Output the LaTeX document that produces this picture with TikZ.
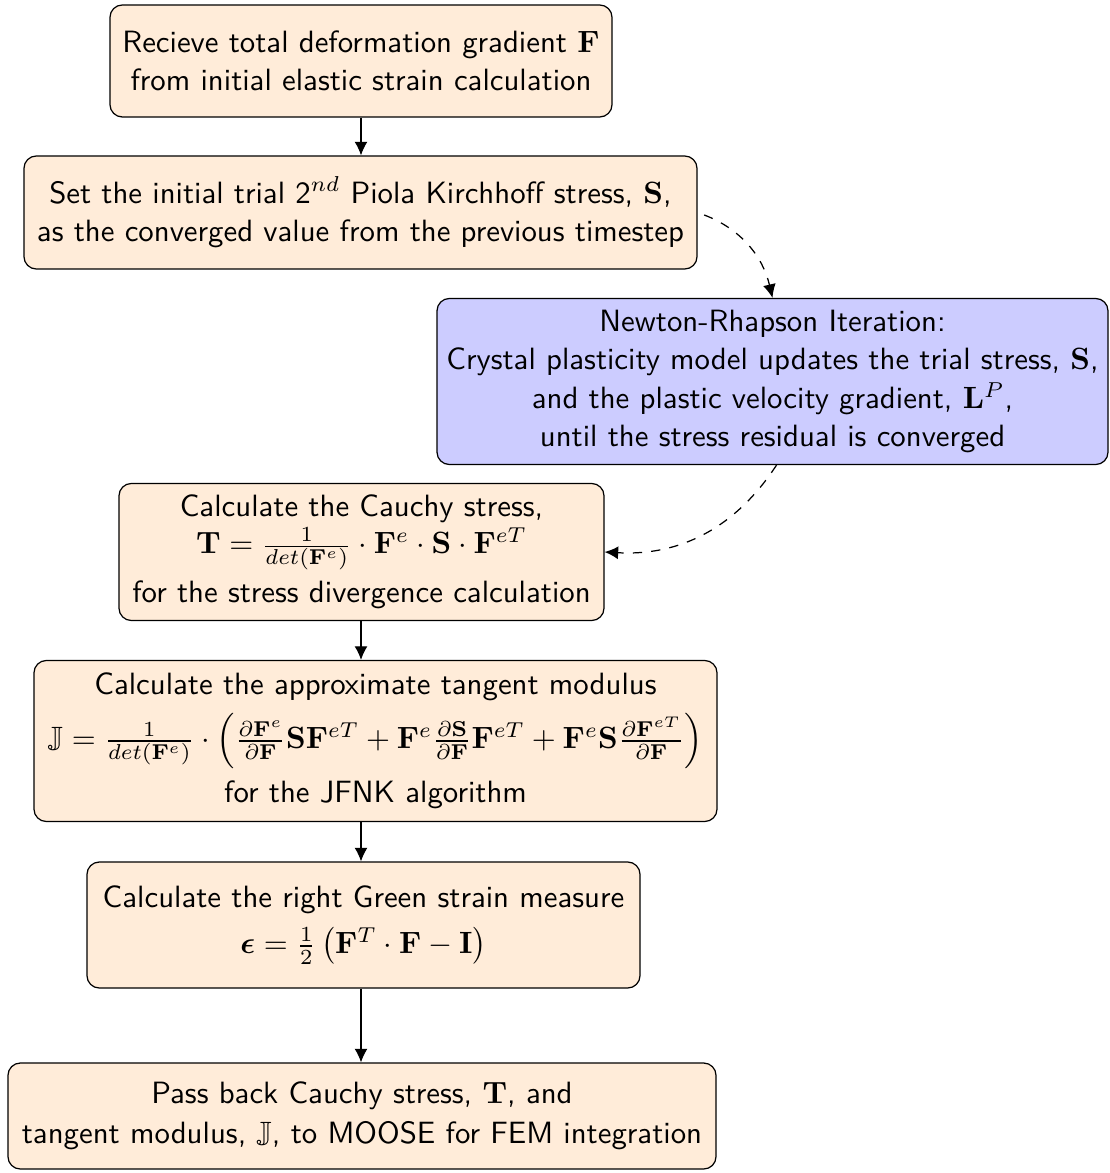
\documentclass[tikz,border=0pt]{standalone}
\usepackage{amsmath,amssymb,bm}
\usetikzlibrary{arrows.meta}
\def\pxu{0.32468pt}
\tikzset{
  box/.style={draw, rounded corners=4pt, fill=orange!15, align=center, font=\sffamily, inner sep=0pt},
  nrbox/.style={box, fill=blue!20},
  flow/.style={-{Latex[length=4.4pt,width=4.2pt]}},
  dflow/.style={dashed, -{Latex[length=4.4pt,width=4.2pt]}}
}
\begin{document}
\begin{tikzpicture}[x=\pxu, y=-\pxu]
\useasboundingbox (0,0) rectangle (1109,1173);
\node[box, minimum width=502*\pxu, minimum height=112*\pxu] (b1) at (361,61)
  {Recieve total deformation gradient $\mathbf{F}$\\[0.5pt]from initial elastic strain calculation};
\node[box, minimum width=673*\pxu, minimum height=113*\pxu] (b2) at (360.5,212.5)
  {Set the initial trial 2$^{nd}$ Piola Kirchhoff stress, $\mathbf{S}$,\\[0.5pt]as the converged value from the previous timestep};
\node[nrbox, minimum width=671*\pxu, minimum height=166*\pxu] (b3) at (772.5,381.5)
  {Newton-Rhapson Iteration:\\[0.5pt]Crystal plasticity model updates the trial stress, $\mathbf{S}$,\\[0.5pt]and the plastic velocity gradient, $\mathbf{L}^P$,\\[0.5pt]until the stress residual is converged};
\node[box, minimum width=485*\pxu, minimum height=137*\pxu] (b4) at (361.5,552)
  {Calculate the Cauchy stress,\\[0pt]$\mathbf{T} = \frac{1}{det(\mathbf{F}^e)}\cdot\mathbf{F}^e\cdot\mathbf{S}\cdot\mathbf{F}^{eT}$\\[2.5pt]for the stress divergence calculation};
\node[box, minimum width=683*\pxu, minimum height=161*\pxu] (b5) at (375.5,741)
  {Calculate the approximate tangent modulus\\[3pt]$\mathbb{J} = \frac{1}{det(\mathbf{F}^e)}\cdot\Bigl(\frac{\partial\mathbf{F}^e}{\partial\mathbf{F}}\mathbf{S}\mathbf{F}^{eT} + \mathbf{F}^e\frac{\partial\mathbf{S}}{\partial\mathbf{F}}\mathbf{F}^{eT} + \mathbf{F}^e\mathbf{S}\frac{\partial\mathbf{F}^{eT}}{\partial\mathbf{F}}\Bigr)$\\[3pt]for the JFNK algorithm};
\node[box, minimum width=553*\pxu, minimum height=126*\pxu] (b6) at (363.5,925)
  {Calculate the right Green strain measure\\[3pt]$\bm{\epsilon} = \frac{1}{2}\left(\mathbf{F}^T\cdot\mathbf{F} - \mathbf{I}\right)$};
\node[box, minimum width=708*\pxu, minimum height=106*\pxu] (b7) at (362,1116)
  {Pass back Cauchy stress, $\mathbf{T}$, and\\[1pt]tangent modulus, $\mathbb{J}$, to MOOSE for FEM integration};
\coordinate (ax) at (361,0);
\draw[flow] (b1.south -| ax) -- (b2.north -| ax);
\draw[flow] (b4.south -| ax) -- (b5.north -| ax);
\draw[flow] (b5.south -| ax) -- (b6.north -| ax);
\draw[flow] (b6.south -| ax) -- (b7.north -| ax);
\draw[dflow, shorten <=7*\pxu] (b2.east) to[bend left=28] (b3.north);
\draw[dflow] ([xshift=4*\pxu]b3.south) to[bend left=30] (b4.east);
\end{tikzpicture}
\end{document}
